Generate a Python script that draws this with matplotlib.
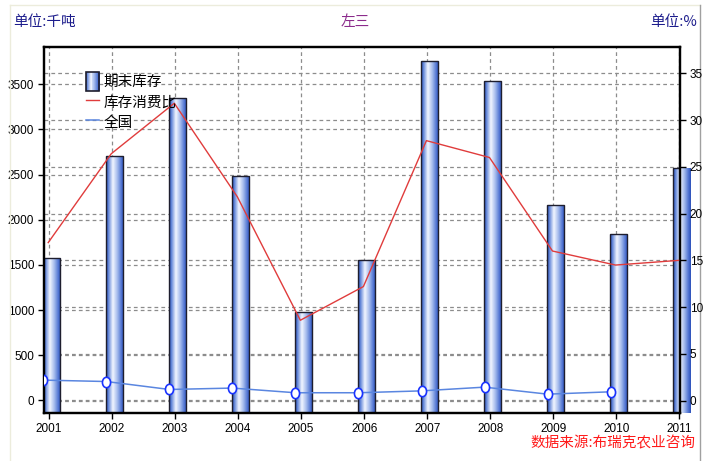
import numpy as np
import matplotlib
matplotlib.use("Agg")
import matplotlib.pyplot as plt
from matplotlib.colors import LinearSegmentedColormap
from matplotlib.patches import Rectangle
from matplotlib.lines import Line2D
from matplotlib.path import Path
from matplotlib.legend_handler import HandlerBase

# ---------------- data ----------------
years = ["2001", "2002", "2003", "2004", "2005", "2006", "2007", "2008", "2009", "2010", "2011"]
stock = [1580, 2706, 3346, 2488, 979, 1555, 3759, 3537, 2167, 1843, 2570]          # 期末库存 (千吨)
ratio = [16.9, 26.4, 31.8, 21.8, 8.6, 12.2, 27.8, 26.0, 16.0, 14.5, 15.0]         # 库存消费比 (%)
national = [2.2, 2.05, 1.2, 1.35, 0.85, 0.85, 1.05, 1.45, 0.7, 0.95, np.nan]      # 全国 (%)
left_ticks = [0, 500, 1000, 1500, 2000, 2500, 3000, 3500]
right_ticks = [0, 5, 10, 15, 20, 25, 30, 35]

CJK = ["Noto Sans CJK SC", "DejaVu Sans"]
NUM = ["Liberation Sans Narrow", "Liberation Sans", "DejaVu Sans"]

W, H = 708, 461
fig = plt.figure(figsize=(W / 100, H / 100), dpi=100)
fig.patch.set_facecolor("white")

L, R, T, B = 44, 680, 47, 413
rect = [L / W, 1 - B / H, (R - L) / W, (B - T) / H]

x = np.arange(len(years))
xlim = (-0.079, 10.011)
ylim_l = (-139.5, 3913)
ylim_r = (-1.315, 37.81)

grid_kw = dict(color="#8c8c8c", linestyle=(0, (3, 2.5)), linewidth=0.9)

# background axes: right-scale horizontal grid
axg = fig.add_axes(rect)
axg.set_zorder(0)
axg.set_xlim(*xlim)
axg.set_ylim(*ylim_r)
axg.set_yticks(right_ticks)
axg.set_xticks([])
axg.yaxis.grid(True, **grid_kw)
axg.tick_params(left=False, labelleft=False)
for s in axg.spines.values():
    s.set_visible(False)

# main axes: bars with left scale
ax = fig.add_axes(rect)
ax.set_zorder(1)
ax.patch.set_visible(False)
ax.set_axisbelow(True)

cmap = LinearSegmentedColormap.from_list(
    "cyl", [(0.0, "#2446b0"), (0.12, "#5a7fd6"), (0.38, "#f2f6ff"),
            (0.62, "#aabfee"), (0.88, "#4a6fd0"), (1.0, "#2c50b8")])
grad = np.linspace(0, 1, 128).reshape(1, -1)

bar_off = 0.037
bar_w = 0.276
base = ylim_l[0]
bars = ax.bar(x + bar_off, np.array(stock) - base, bottom=base, width=bar_w,
              facecolor="none", edgecolor="#1e1e2e", linewidth=1.0, zorder=3)
for r in bars:
    x0, y0, w, h = r.get_x(), r.get_y(), r.get_width(), r.get_height()
    im = ax.imshow(grad, cmap=cmap, extent=[x0, x0 + w, y0, y0 + h], aspect="auto",
                   interpolation="bilinear", zorder=2)
    im.set_clip_path(r)

ax.set_xlim(*xlim)
ax.set_ylim(*ylim_l)
ax.set_xticks(x)
ax.set_xticklabels(years)
ax.set_yticks(left_ticks)
ax.grid(True, **grid_kw)
ax.tick_params(axis="both", direction="out", length=4, width=1, colors="black",
               labelsize=8.5, pad=3)
for lab in ax.get_xticklabels() + ax.get_yticklabels():
    lab.set_family(NUM)
for s in ax.spines.values():
    s.set_linewidth(1.6)
    s.set_color("black")

# lines with right scale
ax2 = ax.twinx()
ax2.set_zorder(2)
ax2.patch.set_visible(False)
ax2.set_xlim(*xlim)
ax2.set_ylim(*ylim_r)
ax2.set_yticks(right_ticks)
ax2.tick_params(axis="y", direction="out", length=4, width=1, labelsize=8.5, pad=3)
for lab in ax2.get_yticklabels():
    lab.set_family(NUM)
for s in ax2.spines.values():
    s.set_linewidth(1.6)

circ = Path.unit_circle()
ellipse = Path(circ.vertices * np.array([0.78, 1.0]), circ.codes)

ax2.plot(x - 0.012, ratio, color="#e03c3c", linewidth=1.0, zorder=4)
ax2.plot(x - 0.09, national, color="#5a86e0", linewidth=1.1, zorder=5,
         marker=ellipse, markersize=7.5, markerfacecolor="white",
         markeredgecolor="#1a33ff", markeredgewidth=1.2)


class GradHandler(HandlerBase):
    def create_artists(self, legend, orig_handle, xdescent, ydescent, width,
                       height, fontsize, trans):
        arts = []
        n = 16
        for i in range(n):
            rr = Rectangle((-xdescent + width * i / n, -ydescent), width / n + 0.3, height,
                           facecolor=cmap((i + 0.5) / n), edgecolor="none", transform=trans)
            arts.append(rr)
        arts.append(Rectangle((-xdescent, -ydescent), width, height, facecolor="none",
                              edgecolor="#1e1e2e", linewidth=1.2, transform=trans))
        return arts


bar_proxy = Rectangle((0, 0), 1, 1)
h_red = Line2D([], [], color="#e03c3c", linewidth=1.0)
h_blue = Line2D([], [], color="#5a86e0", linewidth=1.1)
leg = ax2.legend([bar_proxy, h_red, h_blue], ["期末库存", "库存消费比", "全国"],
                 handler_map={Rectangle: GradHandler()},
                 loc="upper left", bbox_to_anchor=(85.5 / W, 1 - 72 / H),
                 bbox_transform=fig.transFigure, frameon=False, borderpad=0,
                 borderaxespad=0, handlelength=0.95, handleheight=1.62,
                 handletextpad=0.3, labelspacing=0.1,
                 prop={"family": CJK, "size": 10.5})

# titles / notes
fig.text(13 / W, 1 - 22 / H, "单位:千吨", family=CJK, fontsize=10.5, color="#1c1c8c",
         ha="left", va="center")
fig.text(355 / W, 1 - 22 / H, "左三", family=CJK, fontsize=10.5, color="#8c2c8c",
         ha="center", va="center")
fig.text(697 / W, 1 - 22 / H, "单位:%", family=CJK, fontsize=10.5, color="#1c1c8c",
         ha="right", va="center")
fig.text(695 / W, 1 - 443 / H, "数据来源:布瑞克农业咨询", family=CJK, fontsize=10.5,
         color="#ff1a1a", ha="right", va="center")

# outer frame lines
fig.add_artist(Line2D([10 / W, 10 / W], [0, 1 - 5 / H], color="#ececdc", linewidth=1,
                      transform=fig.transFigure))
fig.add_artist(Line2D([10 / W, 700 / W], [1 - 5 / H, 1 - 5 / H], color="#ececdc", linewidth=1,
                      transform=fig.transFigure))
fig.add_artist(Line2D([700 / W, 700 / W], [0, 1 - 5 / H], color="#a0a0a0", linewidth=1,
                      transform=fig.transFigure))

fig.savefig("out.png", dpi=100, facecolor="white")
